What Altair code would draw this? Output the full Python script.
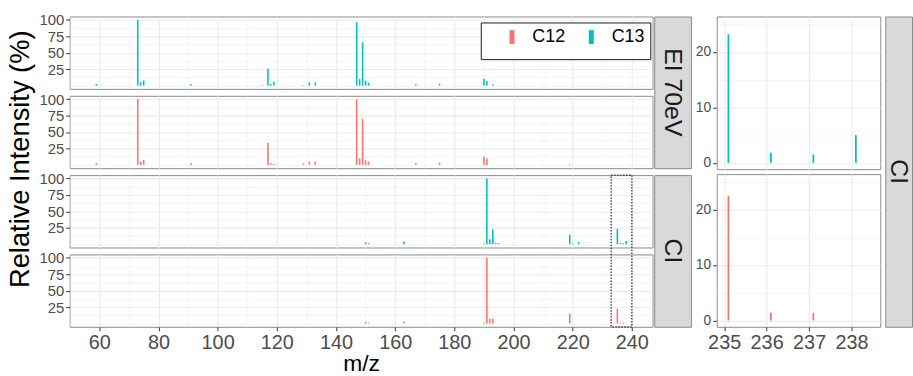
import altair as alt
import pandas as pd

FONT = "Liberation Sans"
COL_C12 = "#F8766D"
COL_C13 = "#00BFC4"
GRID = "#EBEBEB"
BORDER = "#8a8a8a"

# ---------------- data (m/z, relative intensity %) ----------------
ei_c13_mz = [59, 73, 74, 75, 91, 115, 117, 118, 119, 129, 131, 133, 147, 148, 149, 150, 151,
             167, 175, 190, 191, 193]
ei_c13_int = [2.5, 100, 5.4, 7.9, 2.5, 1.0, 25.6, 2.5, 5.9, 1.0, 4.9, 4.9, 96.5, 9.9, 66.0, 7.4, 4.4,
              2.0, 3.0, 10.3, 6.9, 2.0]

ei_c12_mz = [59, 73, 74, 75, 91, 117, 118, 119, 129, 131, 133, 147, 148, 149, 150, 151,
             167, 175, 190, 191, 219]
ei_c12_int = [2.5, 100, 5.4, 7.4, 2.5, 33.7, 2.5, 1.5, 2.0, 5.0, 5.0, 100, 9.9, 69.8, 6.9, 5.0,
              2.5, 3.5, 12.9, 9.9, 1.0]

ci_c13_mz = [150, 151, 163, 190, 191, 192, 193, 194, 195, 219, 220, 222, 235.1, 236.1, 237.1, 238.1]
ci_c13_int = [3.0, 1.5, 4.0, 1.0, 100, 7.4, 22.8, 2.0, 1.5, 14.8, 1.0, 3.5, 23.2, 1.8, 1.5, 5.0]

ci_c12_mz = [150, 151, 163, 190, 191, 192, 193, 219, 235.1, 236.1, 237.1]
ci_c12_int = [2.5, 1.5, 3.0, 1.5, 100, 7.4, 7.4, 14.9, 22.5, 1.4, 1.4]

isotopes = ["C12", "C13"]
strip_left = ["EI 70eV", "CI"]
strip_right = ["CI"]
y_title = ["Relative Intensity (%)"]
x_title = "m/z"

zoom_box_mz = [233, 240]

# axis breaks
LX_VALS = list(range(50, 250, 10))
LY_VALS = [0, 12.5, 25, 37.5, 50, 62.5, 75, 87.5, 100]
RX_VALS = [235, 235.5, 236, 236.5, 237, 237.5, 238, 238.5]
RY_VALS = [0, 5, 10, 15, 20, 25]

# scales
LX_DOM = [50, 247]
LY_DOM = [-5, 105]
RX_DOM = [234.825, 238.675]
RY_DOM = [-1.15, 26.4]

# layout
LW, PH, GAP = 588, 73, 7
SW = 37
RW, RH, RGAP = 165, 154, 5
RSW = 27
TW = 28


def spec_df(mz, inten, iso):
    return pd.DataFrame({"mz": mz, "intensity": inten, "isotope": iso})


ei13 = spec_df(ei_c13_mz, ei_c13_int, "C13")
ei12 = spec_df(ei_c12_mz, ei_c12_int, "C12")
ci13 = spec_df(ci_c13_mz, ci_c13_int, "C13")
ci12 = spec_df(ci_c12_mz, ci_c12_int, "C12")


def cond(test, on, off):
    return {"condition": {"test": test, "value": on}, "value": off}


def make_axis(values, test, show, font_size, title=None, fmt=None):
    kw = dict(
        values=values,
        grid=True,
        gridColor=GRID,
        gridWidth=cond(test, 1.1, 0.55),
        domain=False,
        labelOverlap=False,
        labelFlush=False,
        labelColor="#4D4D4D",
        labelFont=FONT,
        labelFontSize=font_size,
        labelPadding=2,
    )
    if fmt:
        kw.update(format=fmt)
    if show:
        kw.update(
            labels=True,
            labelExpr=f"({test}) ? datum.label : ''",
            ticks=True,
            tickColor="#333333",
            tickSize=4,
            tickWidth=1,
            tickOpacity=cond(test, 1, 0),
        )
    else:
        kw.update(labels=False, ticks=False)
    if title:
        kw.update(title=title, titleFont=FONT, titleFontSize=23, titleFontWeight="normal",
                  titleColor="black", titlePadding=0)
    else:
        kw.update(title=None)
    return alt.Axis(**kw)


color_scale = alt.Scale(domain=isotopes, range=[COL_C12, COL_C13])
legend = alt.Legend(
    orient="none",
    legendX=478,
    legendY=6,
    direction="horizontal",
    title=" ",
    titleOrient="left",
    titleFontSize=1,
    titlePadding=17,
    symbolType="M0,-1L0,1",
    symbolSize=196,
    symbolStrokeWidth=5,
    symbolOpacity=1,
    labelFont=FONT,
    labelFontSize=18,
    labelColor="black",
    labelOffset=11,
    columnPadding=15,
    padding=5,
    strokeColor="#1a1a1a",
    fillColor="white",
)

lx_test = "datum.value % 20 === 0"
ly_test = "datum.value % 25 === 0 && datum.value > 0"
rx_test = "datum.value % 1 === 0"
ry_test = "datum.value % 10 === 0"

panel_view = alt.ViewBackground(stroke=BORDER, strokeWidth=1)


def left_panel(df, bottom, with_legend, extra=None):
    xs = alt.Scale(domain=LX_DOM, nice=False, zero=False)
    ys = alt.Scale(domain=LY_DOM, nice=False, zero=False)
    xa = make_axis(LX_VALS, lx_test, bottom, 20, x_title if bottom else None)
    ya = make_axis(LY_VALS, ly_test, True, 15)
    bars = alt.Chart(df).mark_rule(strokeWidth=1.6).encode(
        x=alt.X("mz:Q", scale=xs, axis=xa),
        y=alt.Y("intensity:Q", scale=ys, axis=ya),
        y2=alt.Y2Datum(0),
        color=alt.Color("isotope:N", scale=color_scale, legend=legend if with_legend else None),
    )
    if extra is not None:
        ov = alt.Chart(extra).mark_rect(
            fillOpacity=0, stroke="#333333", strokeWidth=1.3, strokeDash=[1.5, 1.5]
        ).encode(
            x=alt.X("mz:Q", scale=xs, axis=xa),
            x2="mz_end:Q",
            y=alt.Y("intensity:Q", scale=ys, axis=ya),
            y2="int_end:Q",
        )
        return alt.layer(bars, ov)
    return bars


# dotted zoom box spanning the two CI panels (extends from panel 4 up to the top of panel 3)
y_span = LY_DOM[1] - LY_DOM[0]
box_top = LY_DOM[1] + (PH + GAP) * y_span / PH
box_df = pd.DataFrame({"mz": [zoom_box_mz[0]], "mz_end": [zoom_box_mz[1]],
                       "intensity": [LY_DOM[0]], "int_end": [box_top]})

p1 = left_panel(ei13, False, True)
p2 = left_panel(ei12, False, False)
p3 = left_panel(ci13, False, False)
p4 = left_panel(ci12, True, False, extra=box_df)

left_panels = [
    c.properties(width=LW, height=PH, view=panel_view) for c in (p1, p2, p3, p4)
]
left_col = alt.vconcat(*left_panels, spacing=GAP, bounds="flush")


def strip(label, w, h):
    return alt.Chart(pd.DataFrame({"lab": [label]})).mark_text(
        angle=90, font=FONT, fontSize=25, color="#1A1A1A"
    ).encode(text="lab:N").properties(
        width=w, height=h,
        view=alt.ViewBackground(fill="#D9D9D9", stroke=BORDER, strokeWidth=1),
    )


strips_col = alt.vconcat(strip(strip_left[0], SW, 2 * PH + GAP),
                         strip(strip_left[1], SW, 2 * PH + GAP),
                         spacing=GAP, bounds="flush")


def right_panel(df, bottom):
    xs = alt.Scale(domain=RX_DOM, nice=False, zero=False)
    ys = alt.Scale(domain=RY_DOM, nice=False, zero=False)
    return alt.Chart(df).transform_filter("datum.mz > 234.8").mark_rule(strokeWidth=1.8).encode(
        x=alt.X("mz:Q", scale=xs, axis=make_axis(RX_VALS, rx_test, bottom, 20, fmt="d")),
        y=alt.Y("intensity:Q", scale=ys, axis=make_axis(RY_VALS, ry_test, True, 14, fmt="d")),
        y2=alt.Y2Datum(0),
        color=alt.Color("isotope:N", scale=color_scale, legend=None),
    ).properties(width=RW, height=RH, view=panel_view)


right_col = alt.vconcat(right_panel(ci13, False), right_panel(ci12, True),
                        spacing=RGAP, bounds="flush")

rstrip = strip(strip_right[0], RSW, 2 * RH + RGAP)

ytitle = alt.Chart(pd.DataFrame({"t": y_title})).mark_text(
    angle=270, font=FONT, fontSize=27.5, color="black"
).encode(text="t:N", y=alt.value(144)).properties(
    width=TW, height=4 * PH + 3 * GAP, view=alt.ViewBackground(stroke="transparent")
)

A = alt.hconcat(ytitle, left_col, spacing=2.3)
B = alt.hconcat(A, strips_col, spacing=0)
C = alt.hconcat(right_col, rstrip, spacing=3)
chart = alt.hconcat(B, C, spacing=2).properties(
    padding={"left": 6, "top": 10, "right": 0, "bottom": 0},
    background="white",
).configure(font=FONT)

chart.save("out.html", embed_options={"renderer": "svg", "actions": False})
